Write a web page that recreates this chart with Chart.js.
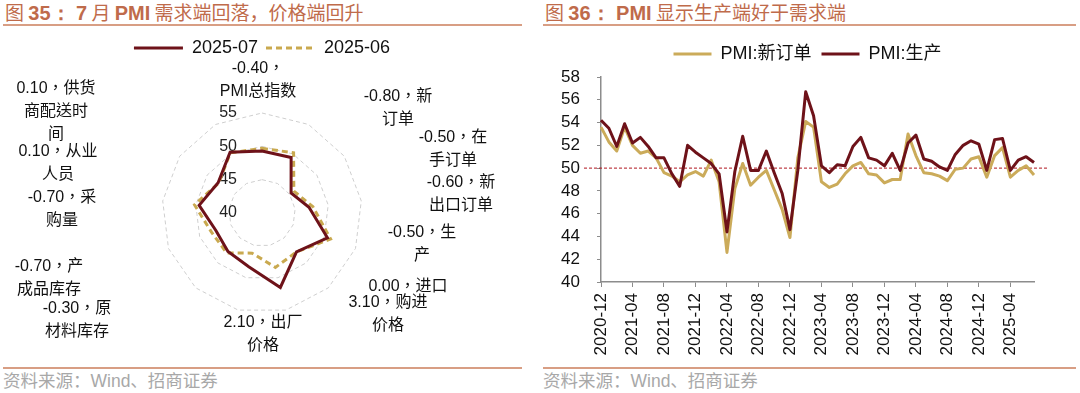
<!DOCTYPE html>
<html>
<head>
<meta charset="utf-8">
<script src="https://cdn.jsdelivr.net/npm/chart.js@4.4.1/dist/chart.umd.min.js"></script>
<style>
  html, body { margin: 0; padding: 0; background: #ffffff; width: 1080px; height: 393px; overflow: hidden; }
  .title { position: absolute; top: 0px; height: 24px; line-height: 24px; font-size: 19px; font-family: "Noto Sans CJK SC", sans-serif; color: #BF6B4B; white-space: nowrap; }
  .title b { font-family: "Liberation Sans", Arial, sans-serif; font-weight: bold; font-size: 20px; }
  .rule { position: absolute; height: 2px; background: #D89E84; }
  .src { position: absolute; top: 370px; height: 22px; line-height: 22px; font-size: 17.5px; font-family: "Liberation Sans", "Noto Sans CJK SC", sans-serif; color: #A8A8A8; white-space: nowrap; }
  .box { position: absolute; top: 30px; width: 540px; height: 335px; }
  canvas { display: block; }
</style>
</head>
<body>
<div class="title" style="left:5px;">图 <b>35： 7</b> 月 <b>PMI</b> 需求端回落，价格端回升</div>
<div class="rule" style="left:3px; width:519px; top:24px;"></div>
<div class="box" style="left:0px;"><canvas id="radar" width="540" height="335"></canvas></div>
<div class="rule" style="left:3px; width:519px; top:367px;"></div>
<div class="src" style="left:3px;">资料来源：Wind、招商证券</div>

<div class="title" style="left:545px;">图 <b>36： PMI</b> 显示生产端好于需求端</div>
<div class="rule" style="left:543px; width:533px; top:24px;"></div>
<div class="box" style="left:540px;"><canvas id="line" width="540" height="335"></canvas></div>
<div class="rule" style="left:543px; width:533px; top:367px;"></div>
<div class="src" style="left:543px;">资料来源：Wind、招商证券</div>

<script>
// ================= DATA =================
// Left: radar of PMI sub-indices
const radarCategories = ['PMI总指数', '新订单', '在手订单', '新出口订单', '生产', '进口', '购进价格', '出厂价格', '原材料库存', '产成品库存', '采购量', '从业人员', '供货商配送时间'];
const radarSeriesNames = ['2025-07', '2025-06'];
const pmiJul2025 = [49.3, 49.4, 45.3, 47.1, 50.5, 47.8, 51.5, 48.3, 47.7, 47.4, 49.5, 48.0, 50.3];
const pmiJun2025 = [49.7, 50.2, 45.8, 47.7, 51.0, 47.8, 48.4, 46.2, 48.0, 48.1, 50.2, 47.9, 50.2];
const radarChangeLabels = ['-0.40', '-0.80', '-0.50', '-0.60', '-0.50', '0.00', '3.10', '2.10', '-0.30', '-0.70', '-0.70', '0.10', '0.10'];
const radarMin = 40, radarMax = 55, radarStep = 5;

// Right: PMI new orders vs production
const months = [
  '2020-12',
  '2021-01','2021-02','2021-03','2021-04','2021-05','2021-06','2021-07','2021-08','2021-09','2021-10','2021-11','2021-12',
  '2022-01','2022-02','2022-03','2022-04','2022-05','2022-06','2022-07','2022-08','2022-09','2022-10','2022-11','2022-12',
  '2023-01','2023-02','2023-03','2023-04','2023-05','2023-06','2023-07','2023-08','2023-09','2023-10','2023-11','2023-12',
  '2024-01','2024-02','2024-03','2024-04','2024-05','2024-06','2024-07','2024-08','2024-09','2024-10','2024-11','2024-12',
  '2025-01','2025-02','2025-03','2025-04','2025-05','2025-06','2025-07'
];
const lineSeriesNames = ['PMI:新订单', 'PMI:生产'];
const newOrders = [
  53.6,
  52.3, 51.5, 53.6, 52.0, 51.3, 51.5, 50.9, 49.6, 49.3, 48.8, 49.4, 49.7,
  49.3, 50.7, 48.8, 42.6, 48.2, 50.4, 48.5, 49.2, 49.8, 48.1, 46.4, 43.9,
  50.9, 54.1, 53.6, 48.8, 48.3, 48.6, 49.5, 50.2, 50.5, 49.5, 49.4, 48.7,
  49.0, 49.0, 53.0, 51.1, 49.6, 49.5, 49.3, 48.9, 49.9, 50.0, 50.8, 51.0,
  49.2, 51.1, 51.8, 49.2, 49.8, 50.2, 49.4
];
const production = [
  54.2,
  53.5, 51.9, 53.9, 52.2, 52.7, 51.9, 50.9, 50.9, 49.5, 48.4, 52.0, 51.4,
  50.9, 50.4, 49.5, 44.4, 49.7, 52.8, 49.8, 49.8, 51.5, 49.6, 47.8, 44.6,
  49.8, 56.7, 54.6, 50.2, 49.6, 50.3, 50.2, 51.9, 52.7, 50.9, 50.7, 50.2,
  51.3, 49.8, 52.2, 52.9, 50.8, 50.6, 50.1, 49.8, 51.2, 52.0, 52.4, 52.1,
  49.8, 52.5, 52.6, 49.8, 50.7, 51.0, 50.5
];
const yMin = 40, yMax = 58, yStep = 2;
const xTickEvery = 4;
const refLineValue = 50;

// ================= LAYOUT / STYLE =================
const C_MAROON = '#6E1219';
const C_GOLD_RADAR = '#C9A94F';
const C_GOLD_LINE = '#CBAB5A';
const C_AXIS = '#8C8C8C';
const C_TEXT = '#111111';
const LATIN = '"Liberation Sans", Arial, sans-serif';

// data label placement relative to radar centre (px): [text centre x, first line centre y]
const dataLabelOffsets = [[-4,-144],[136,-116],[191,-75],[199,-30],[160,20],[146,74],[126,90],[1,110],[-185,96],[-213,54],[-200,-15],[-204,-61],[-206,-124]];
// character split points for wrapping category names inside labels
const dataLabelSplits = [[0],[1],[1],[1],[1],[2],[2],[2],[1],[1],[1],[2],[2,6]];
const dataLabelLineHeight = 23;

function labelLines(i) {
  const name = radarCategories[i];
  const cuts = dataLabelSplits[i];
  const lines = [radarChangeLabels[i] + '，' + name.slice(0, cuts[0])];
  for (let k = 0; k < cuts.length; k++) {
    const part = name.slice(cuts[k], cuts[k + 1]);
    if (part) lines.push(part);
  }
  return lines;
}

function lineLegendLabels(chart) {
  const items = Chart.defaults.plugins.legend.labels.generateLabels(chart);
  items.forEach(it => {
    const ds = chart.data.datasets[it.datasetIndex];
    it.lineDash = ds.borderDash || [];
    it.lineWidth = ds.borderWidth;
    it.strokeStyle = ds.borderColor;
    it.fillStyle = ds.borderColor;
    it.pointStyle = 'line';
  });
  return items;
}

function legendTweak(h, dx) {
  return {
    id: 'legendTweak',
    beforeInit(chart) {
      const orig = chart.legend.fit;
      chart.legend.fit = function () { orig.bind(chart.legend)(); this.height = h; };
    },
    afterLayout(chart) {
      if (dx) { chart.legend.left += dx; chart.legend.right += dx; }
    }
  };
}

// ---- radar plugins ----
const radarTickPlugin = {
  id: 'radarTicks',
  beforeDatasetsDraw(chart) {
    const s = chart.scales.r, ctx = chart.ctx;
    ctx.save();
    ctx.font = '16px ' + LATIN;
    ctx.fillStyle = '#222222';
    ctx.textAlign = 'right';
    ctx.textBaseline = 'middle';
    s.ticks.forEach(t => {
      ctx.fillText(String(t.value), s.xCenter - 25, s.yCenter - s.getDistanceFromCenterForValue(t.value));
    });
    ctx.restore();
  }
};
const radarDataLabelPlugin = {
  id: 'radarDataLabels',
  afterDraw(chart) {
    const s = chart.scales.r, ctx = chart.ctx;
    ctx.save();
    ctx.font = '16px "Liberation Sans", "Noto Sans CJK TC", sans-serif';
    ctx.fillStyle = C_TEXT;
    ctx.textAlign = 'center';
    ctx.textBaseline = 'middle';
    radarCategories.forEach((c, i) => {
      const [dx, dy] = dataLabelOffsets[i];
      labelLines(i).forEach((ln, k) => {
        ctx.fillText(ln, s.xCenter + dx, s.yCenter + dy + k * dataLabelLineHeight);
      });
    });
    ctx.restore();
  }
};

new Chart(document.getElementById('radar'), {
  type: 'radar',
  data: {
    labels: radarCategories,
    datasets: [
      { label: radarSeriesNames[0], data: pmiJul2025, borderColor: C_MAROON, backgroundColor: C_MAROON, borderWidth: 3, pointRadius: 0, pointHoverRadius: 0, fill: false, tension: 0, borderJoinStyle: 'miter' },
      { label: radarSeriesNames[1], data: pmiJun2025, borderColor: C_GOLD_RADAR, backgroundColor: C_GOLD_RADAR, borderWidth: 3, borderDash: [6, 4], pointRadius: 0, pointHoverRadius: 0, fill: false, tension: 0 }
    ]
  },
  options: {
    responsive: false,
    animation: false,
    layout: { padding: { left: 0, right: 16, top: 1, bottom: 52 } },
    plugins: {
      tooltip: { enabled: false },
      legend: {
        display: true,
        position: 'top',
        labels: {
          usePointStyle: true,
          pointStyle: 'line',
          pointStyleWidth: 49,
          padding: 8,
          color: C_TEXT,
          font: { size: 18, family: LATIN },
          generateLabels: lineLegendLabels,
          sort: (a, b) => a.datasetIndex - b.datasetIndex
        }
      }
    },
    scales: {
      r: {
        min: radarMin,
        max: radarMax,
        beginAtZero: false,
        ticks: { stepSize: radarStep, display: false },
        grid: { color: '#CFCFCF', lineWidth: 1, circular: false },
        border: { dash: [4, 3] },
        angleLines: { display: false },
        pointLabels: { display: false }
      }
    }
  },
  plugins: [legendTweak(82, 0), radarTickPlugin, radarDataLabelPlugin]
});

// ---- line chart plugins ----
const refLinePlugin = {
  id: 'refLine',
  beforeDatasetsDraw(chart) {
    const y = chart.scales.y.getPixelForValue(refLineValue);
    const a = chart.chartArea, ctx = chart.ctx;
    ctx.save();
    ctx.strokeStyle = '#B0141E';
    ctx.lineWidth = 1;
    ctx.setLineDash([3, 2]);
    ctx.beginPath();
    ctx.moveTo(a.left - 17, y);
    ctx.lineTo(a.right + 13, y);
    ctx.stroke();
    ctx.restore();
  }
};

new Chart(document.getElementById('line'), {
  type: 'line',
  data: {
    labels: months,
    datasets: [
      { label: lineSeriesNames[0], data: newOrders, borderColor: C_GOLD_LINE, backgroundColor: C_GOLD_LINE, borderWidth: 3, pointRadius: 0, pointHoverRadius: 0, tension: 0, fill: false, order: 2, borderJoinStyle: 'round' },
      { label: lineSeriesNames[1], data: production, borderColor: C_MAROON, backgroundColor: C_MAROON, borderWidth: 3, pointRadius: 0, pointHoverRadius: 0, tension: 0, fill: false, order: 1, borderJoinStyle: 'round' }
    ]
  },
  options: {
    responsive: false,
    animation: false,
    layout: { padding: { left: 10, right: 46, top: 5, bottom: 0 } },
    plugins: {
      tooltip: { enabled: false },
      legend: {
        display: true,
        position: 'top',
        fullSize: false,
        labels: {
          usePointStyle: true,
          pointStyle: 'line',
          pointStyleWidth: 38,
          padding: 10,
          color: C_TEXT,
          font: { size: 18, family: LATIN + ', "Noto Sans CJK SC"' },
          generateLabels: lineLegendLabels,
          sort: (a, b) => a.datasetIndex - b.datasetIndex
        }
      }
    },
    scales: {
      x: {
        type: 'category',
        offset: false,
        grid: { display: true, drawOnChartArea: false, drawTicks: true, tickLength: 5, color: C_AXIS, lineWidth: 1 },
        border: { display: true, color: C_AXIS, width: 1.5 },
        ticks: { autoSkip: false, maxRotation: 90, minRotation: 90, padding: 6, color: C_TEXT, font: { size: 17, family: LATIN } },
        afterBuildTicks: ax => { ax.ticks = ax.ticks.filter(t => t.value % xTickEvery === 0); },
        afterFit: ax => { ax.height = 83; }
      },
      y: {
        min: yMin,
        max: yMax,
        ticks: { stepSize: yStep, padding: 17, color: C_TEXT, font: { size: 17, family: LATIN }, autoSkip: false },
        grid: { display: true, drawOnChartArea: false, drawTicks: true, tickLength: 4, color: C_AXIS, lineWidth: 1 },
        border: { display: true, color: C_AXIS, width: 1.5 },
        afterFit: ax => { ax.width = 51; }
      }
    }
  },
  plugins: [legendTweak(42, -10), refLinePlugin]
});
</script>
</body>
</html>
